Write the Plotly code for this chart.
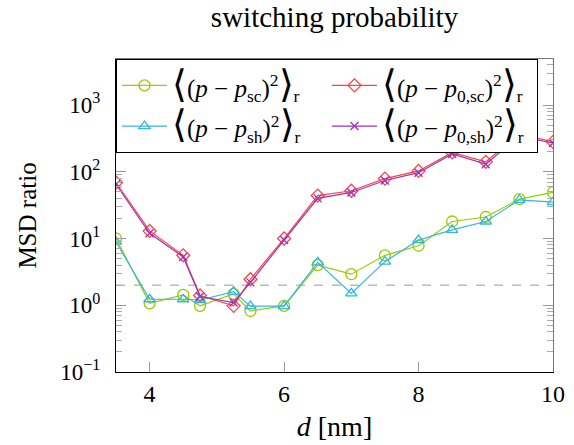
import plotly.graph_objects as go

d = [3.5, 4, 4.5, 4.75, 5.25, 5.5, 6, 6.5, 7, 7.5, 8, 8.5, 9, 9.5, 10]
msd_sc = [10, 1.07, 1.43, 0.98, 1.48, 0.82, 0.98, 4.0, 2.92, 5.6, 7.8, 18, 21, 39, 49]
msd_sh = [8.9, 1.23, 1.23, 1.2, 1.6, 0.97, 0.97, 4.4, 1.51, 4.5, 9.5, 13.5, 18, 38, 35]
msd_0sc = [69, 13, 5.6, 1.4, 0.98, 2.45, 10, 44, 52, 79, 103, 195, 141, 370, 280]
msd_0sh = [65, 12, 5.3, 1.35, 1.1, 2.2, 9.5, 40, 49, 74, 97, 185, 130, 340, 270]
threshold = 2

y_tickvals = [0.1, 1, 10, 100, 1000]
y_ticktext = ["10<sup>−1</sup>", "10<sup>0</sup>", "10<sup>1</sup>", "10<sup>2</sup>", "10<sup>3</sup>"]
x_tickvals = [4, 6, 8, 10]
minor_vals = [m * 10 ** e for e in range(-1, 4) for m in range(2, 10)]

FONT = "Liberation Serif, Times New Roman, serif"
C_GREEN = "#99CC00"
C_BLUE = "#33B5E5"
C_RED = "#FF4444"
C_PURPLE = "#9933BB"

def lab(sub):
    B = '<span style="font-size:38px;font-family:DejaVu Sans;font-weight:200">'
    T = '<span style="font-size:25px">'
    return (B + '⟨</span>' + T + '(<i>p</i> − <i>p</i><sub>' + sub + '</sub>)<sup>2</sup></span>'
            + B + '⟩</span>' + T + '<sub>r</sub></span>')

fig = go.Figure()
fig.add_trace(go.Scatter(x=[d[0], d[-1]], y=[threshold, threshold], mode="lines",
                         line=dict(color="#999999", width=1, dash="dash"),
                         showlegend=False, hoverinfo="skip"))
series = [
    (msd_sc, C_GREEN, "circle-open", lab("sc"), 11),
    (msd_0sc, C_RED, "diamond-open", lab("0,sc"), 10),
    (msd_sh, C_BLUE, "triangle-up-open", lab("sh"), 10),
    (msd_0sh, C_PURPLE, "x-thin-open", lab("0,sh"), 8),
]
for ys, c, sym, name, sz in series:
    fig.add_trace(go.Scatter(x=d, y=ys, mode="lines+markers", name=name,
                             line=dict(color=c, width=1.2),
                             marker=dict(symbol=sym, size=sz, color=c,
                                         line=dict(color=c, width=1.3))))

# helper trace for mirrored (gray) right/top axes
fig.add_trace(go.Scatter(x=[d[0]], y=[1], xaxis="x2", yaxis="y2", mode="markers",
                         marker=dict(opacity=0), showlegend=False, hoverinfo="skip"))

yr = [-1, 3.69]
fig.update_layout(
    width=574, height=445,
    margin=dict(l=116, r=21, t=59, b=73, autoexpand=False),
    paper_bgcolor="white", plot_bgcolor="white",
    font=dict(family=FONT, size=20, color="black"),
    title=dict(text="switching probability", x=0.5, xref="paper", xanchor="center",
               y=0.962, yanchor="middle", font=dict(family=FONT, size=29)),
    xaxis=dict(range=[3.5, 10], tickvals=x_tickvals, ticks="inside", ticklen=10,
               tickcolor="#999999", showline=True, linecolor="black", linewidth=1,
               showgrid=False, zeroline=False, automargin=False,
               tickfont=dict(family=FONT, size=24),
               title=dict(text="<i>d</i> [nm]", font=dict(family=FONT, size=28), standoff=10)),
    yaxis=dict(type="log", range=yr, tickvals=y_tickvals, ticktext=y_ticktext,
               ticks="inside", ticklen=10, tickcolor="#999999", ticklabelstandoff=10,
               minor=dict(tickmode="array", tickvals=minor_vals, ticks="inside",
                          ticklen=6, tickcolor="#aaaaaa", showgrid=False),
               showline=True, linecolor="black", linewidth=1,
               showgrid=False, zeroline=False, automargin=False,
               tickfont=dict(family=FONT, size=23),
               title=dict(text="MSD ratio", font=dict(family=FONT, size=25), standoff=16)),
    xaxis2=dict(overlaying="x", side="top", range=[3.5, 10], tickvals=x_tickvals,
                ticks="inside", ticklen=10, tickcolor="#999999", showticklabels=False,
                showline=True, linecolor="#777777", linewidth=1, showgrid=False,
                zeroline=False, anchor="y2", automargin=False),
    yaxis2=dict(overlaying="y", side="right", type="log", range=yr, tickvals=y_tickvals,
                ticks="inside", ticklen=10, tickcolor="#999999", showticklabels=False,
                minor=dict(tickmode="array", tickvals=minor_vals, ticks="inside",
                           ticklen=6, tickcolor="#aaaaaa", showgrid=False),
                showline=True, linecolor="#777777", linewidth=1, showgrid=False,
                zeroline=False, anchor="x2", automargin=False),
    legend=dict(orientation="h", x=0, y=1, xanchor="left", yanchor="top",
                bgcolor="white", bordercolor="black", borderwidth=1,
                entrywidth=150, entrywidthmode="pixels", itemwidth=45,
                font=dict(family=FONT, size=29), tracegroupgap=0),
    showlegend=True,
)

fig.write_html("out.html")
